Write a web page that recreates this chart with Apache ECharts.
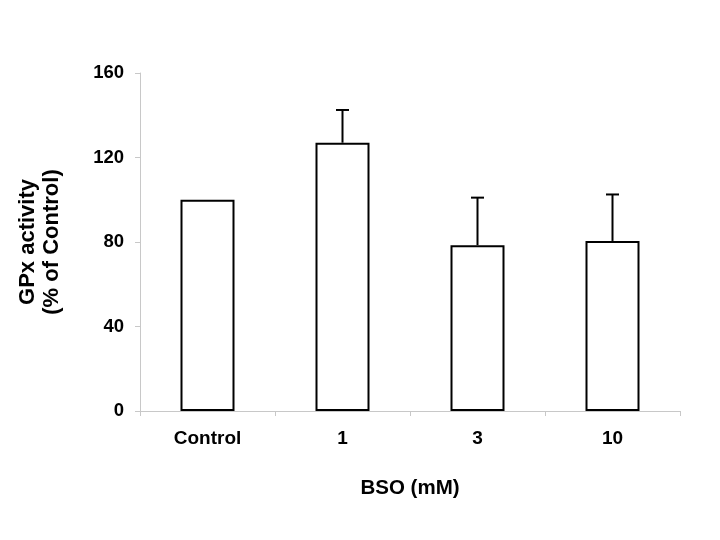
<!DOCTYPE html>
<html>
<head>
<meta charset="utf-8">
<script src="https://cdn.jsdelivr.net/npm/echarts@6/dist/echarts.min.js"></script>
<style>html,body{margin:0;padding:0;background:#fff;}#c{width:720px;height:540px;}</style>
</head>
<body>
<div id="c"></div>
<script>
var categories = ['Control', '1', '3', '10'];
var meanValues = [100, 127, 78.5, 80.5];
var errorValues = [0, 15.5, 22.5, 22];
var yTicks = [0, 40, 80, 120, 160];

var FONT = '"Liberation Sans", Arial, sans-serif';
var chart = echarts.init(document.getElementById('c'));
var errData = categories.map(function (c, i) { return [i, meanValues[i], meanValues[i] + errorValues[i]]; });

chart.setOption({
  animation: false,
  backgroundColor: '#ffffff',
  grid: { left: 140, right: 40, top: 73, bottom: 129, containLabel: false },
  xAxis: {
    type: 'category',
    data: categories,
    name: 'BSO (mM)',
    nameLocation: 'middle',
    nameGap: 67,
    nameTextStyle: { fontFamily: FONT, fontWeight: 'bold', fontSize: 20.5, color: '#000' },
    axisLine: { lineStyle: { color: '#c8c8c8', width: 1 } },
    axisTick: { show: true, length: 5, alignWithLabel: false, lineStyle: { color: '#c8c8c8' } },
    axisLabel: { margin: 18, fontFamily: FONT, fontWeight: 'bold', fontSize: 19, color: '#000' },
    splitLine: { show: false }
  },
  yAxis: {
    type: 'value',
    min: yTicks[0],
    max: yTicks[yTicks.length - 1],
    interval: yTicks[1] - yTicks[0],
    name: 'GPx activity\n(% of Control)',
    nameLocation: 'middle',
    nameRotate: 90,
    nameGap: 76,
    nameTextStyle: { fontFamily: FONT, fontWeight: 'bold', fontSize: 22, color: '#000', lineHeight: 24 },
    axisLine: { show: true, lineStyle: { color: '#c8c8c8', width: 1 } },
    axisTick: { show: true, length: 5, lineStyle: { color: '#c8c8c8' } },
    axisLabel: { margin: 16, fontFamily: FONT, fontWeight: 'bold', fontSize: 18.5, color: '#000' },
    splitLine: { show: false }
  },
  series: [
    {
      type: 'bar',
      data: meanValues,
      barWidth: '40%',
      itemStyle: { color: '#ffffff', borderColor: '#000000', borderWidth: 2 },
      z: 2
    },
    {
      type: 'custom',
      data: errData,
      z: 3,
      renderItem: function (params, api) {
        var i = api.value(0);
        var lo = api.coord([i, api.value(1)]);
        var hi = api.coord([i, api.value(2)]);
        if (api.value(2) <= api.value(1)) return null;
        var hw = 6.5;
        var st = { stroke: '#000', lineWidth: 2 };
        return {
          type: 'group',
          children: [
            { type: 'line', shape: { x1: lo[0], y1: lo[1], x2: hi[0], y2: hi[1] }, style: st },
            { type: 'line', shape: { x1: hi[0] - hw, y1: hi[1], x2: hi[0] + hw, y2: hi[1] }, style: st }
          ]
        };
      }
    }
  ]
});
</script>
</body>
</html>
